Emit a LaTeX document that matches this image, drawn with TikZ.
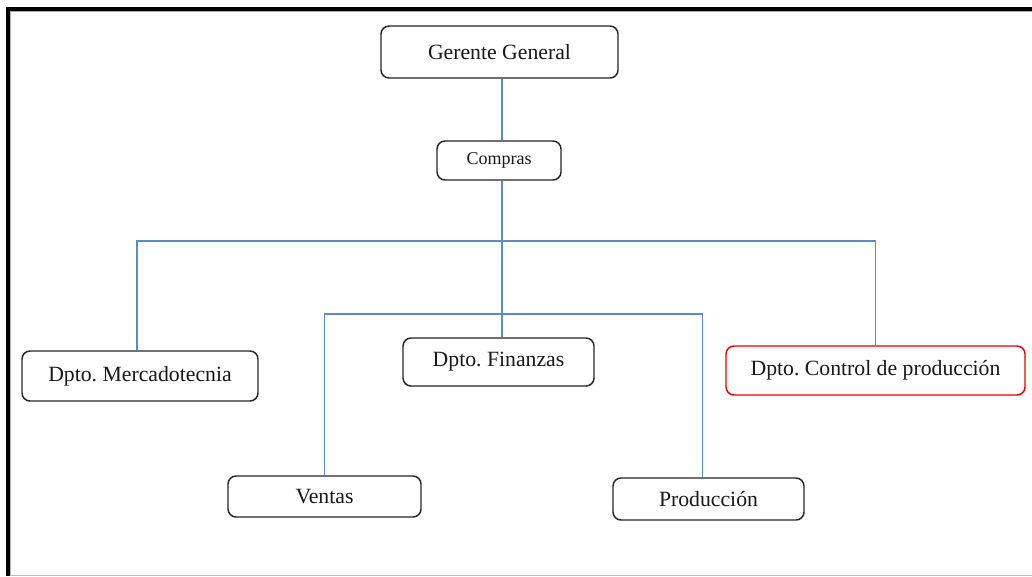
\documentclass[tikz,border=0pt]{standalone}
\usepackage{fontspec}
\setmainfont{Liberation Serif}
\frenchspacing
\begin{document}
\begin{tikzpicture}[x=0.75pt,y=-0.75pt,
  unit/.style={draw=black!85, line width=1.1pt, rounded corners=6pt, fill=white,
    inner sep=0pt, text=black!90, font=\fontsize{16.3}{19}\selectfont},
  redunit/.style={unit, draw=red!90!black},
  smallunit/.style={unit, font=\fontsize{13.5}{16}\selectfont},
  link/.style={draw={rgb,255:red,91;green,138;blue,205}, line width=0.9pt}]
\useasboundingbox (0,0) rectangle (1032,576);
\fill[white] (0,0) rectangle (1032,576);
% page frame
\fill[black] (6,7) rectangle (1032,11);
\fill[black] (6,7) rectangle (10,576);
\draw[black!35, line width=0.75pt] (10,11.5) -- (1032,11.5);
\draw[black!30, line width=0.75pt] (10.5,11) -- (10.5,576);
\draw[black!25, line width=0.75pt] (10,575) -- (1032,575);

% units
\node[unit, minimum width=177.75pt, minimum height=39pt] (ger) at (499.5,52) {Gerente General};
\node[smallunit, minimum width=93pt, minimum height=29.25pt] (com) at (499,160.5) {Compras};
\node[unit, minimum width=177pt, minimum height=37.5pt] (mer) at (140,376) {Dpto. Mercadotecnia};
\node[unit, minimum width=143.25pt, minimum height=36pt] (fin) at (498.5,362) {Dpto. Finanzas};
\node[redunit, minimum width=224.25pt, minimum height=36.75pt] (ctl) at (875.5,370.5) {Dpto. Control de producción};
\node[unit, minimum width=144.75pt, minimum height=30.75pt] (ven) at (324.5,496.5) {Ventas};
\node[unit, minimum width=143.25pt, minimum height=31.5pt] (pro) at (708.5,499) {Producción};

% branch points
\coordinate (bus1) at (502,241);
\coordinate (bus2) at (502,314);

% connectors
\draw[link] (ger.south -| bus1) -- (com.north -| bus1);
\draw[link] (com.south -| bus1) -- (fin.north -| bus1);
\draw[link] ([xshift=-2.25pt]mer.north) |- (bus1) -| (ctl.north);
\draw[link] (ven.north) |- (bus2) -| ([xshift=-4.5pt]pro.north);
\end{tikzpicture}
\end{document}
